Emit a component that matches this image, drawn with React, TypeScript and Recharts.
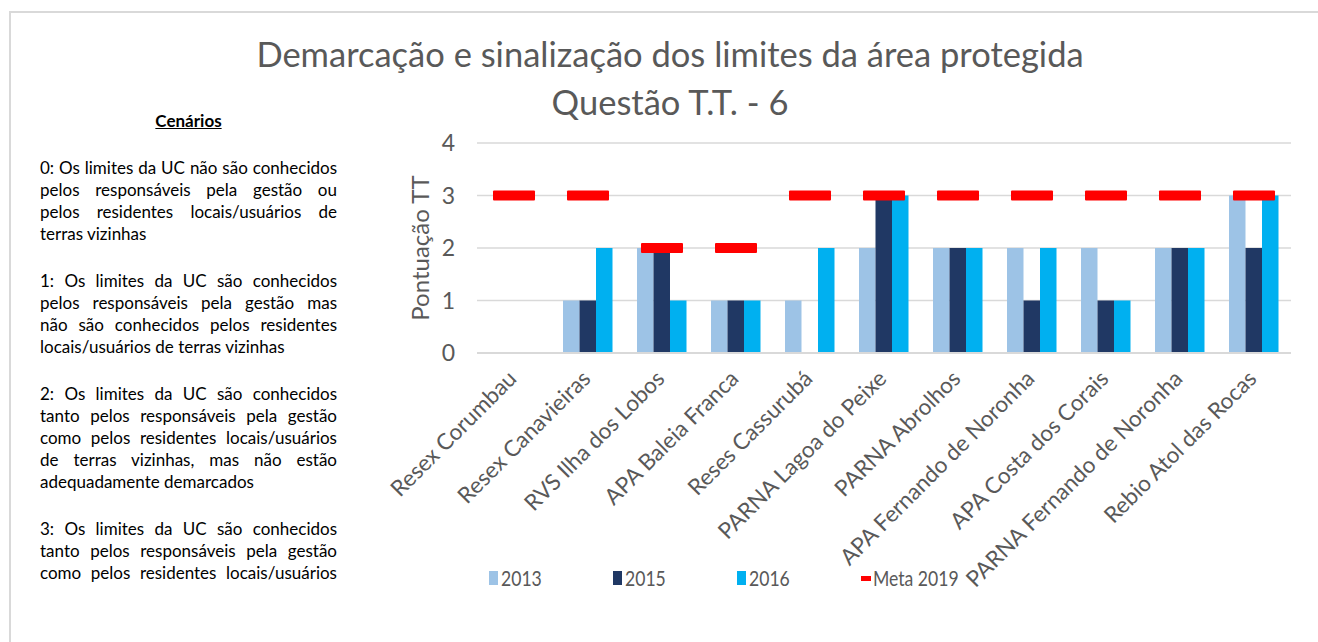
import {
  ComposedChart,
  Bar,
  Line,
  XAxis,
  YAxis,
  CartesianGrid,
  Legend,
} from "recharts";

const categories = [
  "Resex Corumbau",
  "Resex Canavieiras",
  "RVS Ilha dos Lobos",
  "APA Baleia Franca",
  "Reses Cassurubá",
  "PARNA Lagoa do Peixe",
  "PARNA Abrolhos",
  "APA Fernando de Noronha",
  "APA Costa dos Corais",
  "PARNA Fernando de Noronha",
  "Rebio Atol das Rocas",
];
const values2013 = [0, 1, 2, 1, 1, 2, 2, 2, 2, 2, 3];
const values2015 = [0, 1, 2, 1, 0, 3, 2, 1, 1, 2, 2];
const values2016 = [0, 2, 1, 1, 2, 3, 2, 2, 1, 2, 3];
const meta2019 = [3, 3, 2, 2, 3, 3, 3, 3, 3, 3, 3];
const yTicks = [0, 1, 2, 3, 4];

const titleLines = [
  "Demarcação e sinalização dos limites da área protegida",
  "Questão T.T. - 6",
];

// cada parágrafo quebrado nas mesmas linhas do original
const cenarios = [
  [
    "0: Os limites da UC não são conhecidos",
    "pelos responsáveis pela gestão ou",
    "pelos residentes locais/usuários de",
    "terras vizinhas",
  ],
  [
    "1: Os limites da UC são conhecidos",
    "pelos responsáveis pela gestão mas",
    "não são conhecidos pelos residentes",
    "locais/usuários de terras vizinhas",
  ],
  [
    "2: Os limites da UC são conhecidos",
    "tanto pelos responsáveis pela gestão",
    "como pelos residentes locais/usuários",
    "de terras vizinhas, mas não estão",
    "adequadamente demarcados",
  ],
  [
    "3: Os limites da UC são conhecidos",
    "tanto pelos responsáveis pela gestão",
    "como pelos residentes locais/usuários",
  ],
];

const legendItems = [
  { name: "2013", color: "#9DC3E6", kind: "bar" },
  { name: "2015", color: "#203864", kind: "bar" },
  { name: "2016", color: "#00B0F0", kind: "bar" },
  { name: "Meta 2019", color: "#FF0000", kind: "dash" },
];

const data = categories.map((name, i) => ({
  name,
  y2013: values2013[i],
  y2015: values2015[i],
  y2016: values2016[i],
  meta: meta2019[i],
}));

const FONT = "Lato, 'Open Sans', sans-serif";
const GREY = "#595959";

// marcador da meta: traço vermelho largo, sem linha ligando os pontos
function MetaDash(props: any) {
  const { cx, cy } = props;
  if (cx == null || cy == null) return null;
  return <rect x={cx - 21} y={cy - 5} width={42} height={10} rx={1} fill="#FF0000" />;
}

function CategoryTick(props: any) {
  const { x, y, payload } = props;
  return (
    <g transform={`translate(${x + 4},${y + 19}) rotate(-45)`}>
      <text
        x={0}
        y={0}
        textAnchor="end"
        fill={GREY}
        fontSize={22.5}
        fontFamily={FONT}
      >
        {payload.value}
      </text>
    </g>
  );
}

function LegendContent() {
  return (
    <svg width={520} height={30}>
      {legendItems.map((it, i) => {
        const x0 = i * 124;
        return (
          <g key={it.name}>
            {it.kind === "bar" ? (
              <rect x={x0} y={8} width={9} height={14} fill={it.color} />
            ) : (
              <rect x={x0} y={13} width={10} height={5} fill={it.color} />
            )}
            <g transform={`translate(${x0 + 12},22.5) scale(0.8,1)`}>
              <text x={0} y={0} fill={GREY} fontSize={22} fontFamily={FONT}>
                {it.name}
              </text>
            </g>
          </g>
        );
      })}
    </svg>
  );
}

export default function App() {
  return (
    <div
      style={{
        position: "fixed",
        left: 0,
        top: 0,
        width: 1318,
        height: 642,
        background: "#fff",
        overflow: "hidden",
        fontFamily: FONT,
      }}
    >
      <div
        style={{
          position: "absolute",
          left: 9,
          top: 11,
          width: 1320,
          height: 640,
          borderTop: "2px solid #d9d9d9",
          borderLeft: "2px solid #d9d9d9",
        }}
      />
      <div
        style={{
          position: "absolute",
          left: 170,
          top: 30,
          width: 1000,
          textAlign: "center",
          color: GREY,
          fontSize: 34.5,
          lineHeight: "48px",
        }}
      >
        {titleLines.map((t) => (
          <div key={t}>{t}</div>
        ))}
      </div>
      <div
        style={{
          position: "absolute",
          left: 40,
          top: 110,
          width: 297,
          color: "#000",
          fontSize: 17,
          lineHeight: "22px",
        }}
      >
        <div
          style={{
            textAlign: "center",
            fontWeight: 700,
            textDecoration: "underline",
            marginBottom: 25,
          }}
        >
          Cenários
        </div>
        {cenarios.map((lines, pi) => (
          <div key={pi} style={{ marginBottom: 25 }}>
            {lines.map((ln, li) => {
              const last = li === lines.length - 1 && pi !== cenarios.length - 1;
              return (
                <div
                  key={li}
                  style={{
                    textAlign: last ? "left" : "justify",
                    textAlignLast: last ? "left" : "justify",
                    whiteSpace: "nowrap",
                  }}
                >
                  {ln}
                </div>
              );
            })}
          </div>
        ))}
      </div>
      <div style={{ position: "absolute", left: 0, top: 0 }}>
        <ComposedChart
          width={1318}
          height={642}
          data={data}
          margin={{ top: 143, right: 27, left: 417, bottom: 89 }}
          barGap={0}
        >
          <CartesianGrid
            vertical={false}
            stroke="#d9d9d9"
            strokeWidth={1.5}
          />
          <XAxis
            dataKey="name"
            height={200}
            interval={0}
            axisLine={{ stroke: "#d9d9d9", strokeWidth: 2 }}
            tickLine={false}
            tick={<CategoryTick />}
          />
          <YAxis
            width={60}
            domain={[0, 4]}
            ticks={yTicks}
            axisLine={false}
            tickLine={false}
            tickSize={0}
            tickMargin={22}
            tick={{ fill: GREY, fontSize: 23, fontFamily: FONT }}
            label={{
              value: "Pontuação TT",
              angle: -90,
              position: "insideLeft",
              offset: 3,
              style: {
                fill: GREY,
                fontSize: 24,
                fontFamily: FONT,
                textAnchor: "middle",
              },
            }}
          />
          <Legend
            layout="horizontal"
            verticalAlign="middle"
            align="center"
            wrapperStyle={{ left: 489, top: 563, width: 520, height: 30 }}
            content={<LegendContent />}
          />
          <Bar dataKey="y2013" name="2013" fill="#9DC3E6" barSize={16.5} isAnimationActive={false} />
          <Bar dataKey="y2015" name="2015" fill="#203864" barSize={16.5} isAnimationActive={false} />
          <Bar dataKey="y2016" name="2016" fill="#00B0F0" barSize={16.5} isAnimationActive={false} />
          <Line
            dataKey="meta"
            name="Meta 2019"
            stroke="none"
            dot={<MetaDash />}
            activeDot={false}
            isAnimationActive={false}
          />
        </ComposedChart>
      </div>
    </div>
  );
}
